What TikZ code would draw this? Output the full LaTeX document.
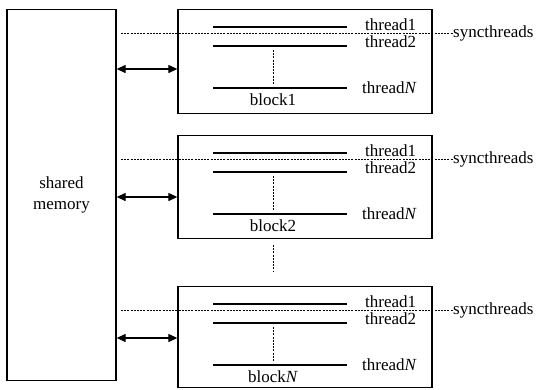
\documentclass[tikz,border=0pt]{standalone}
\usepackage{fontspec}
\setmainfont{Liberation Serif}
\usetikzlibrary{arrows.meta}
\begin{document}
\begin{tikzpicture}[x=1pt,y=-1pt,
  every node/.style={font=\fontsize{17}{19}\selectfont, inner sep=0pt},
  box/.style={draw, line width=1.3pt, rectangle, inner sep=0pt},
  thr/.style={line width=1.2pt},
  syncline/.style={line width=0.9pt, dash pattern=on 2pt off 1.2pt},
  vdots/.style={line width=0.9pt, dash pattern=on 2pt off 1.2pt},
  link/.style={line width=1.2pt, {Triangle[length=9pt,width=8pt]}-{Triangle[length=9pt,width=8pt]}}]
\useasboundingbox (0,0) rectangle (536,389);
\node[box, minimum width=109pt, minimum height=371pt, align=center] (mem) at (61.5,195) {shared\\[2pt]memory};
% blocks
\foreach \i/\top/\h/\ar/\lab in {1/9/104/60/block1, 2/135/103/62/block2, 3/286/101/52/block\textit{N}} {
  \node[box, minimum width=254pt, minimum height=\h pt, anchor=north] (b\i) at (305,\top) {};
  \coordinate (t1\i) at (213,\top+18);
  \coordinate (t2\i) at (213,\top+37);
  \coordinate (tn\i) at (213,\top+79);
  \coordinate (a\i) at (b\i.west |- 0,\top+\ar);
  \draw[thr] (t1\i) -- ++(134,0);
  \draw[thr] (t2\i) -- ++(134,0);
  \draw[thr] (tn\i) -- ++(134,0);
  \draw[vdots] (273,\top+41) -- (273,\top+75);
  \node[anchor=west] (l1\i) at (365,\top+16) {thread1};
  \node[anchor=west] (l2\i) at (365,\top+33) {thread2};
  \node[anchor=west] (ln\i) at (362,\top+79) {thread\textit{N}};
  \node (bl\i) at (273,\top+91) {\lab};
  \node[anchor=west] (s\i) at (453,\top+24) {syncthreads};
  \draw[syncline] (121,\top+24) -- (s\i.west);
  \draw[link] (mem.east |- a\i) -- (a\i);
}
\draw[vdots] (273,245) -- (273,272);
\end{tikzpicture}
\end{document}
